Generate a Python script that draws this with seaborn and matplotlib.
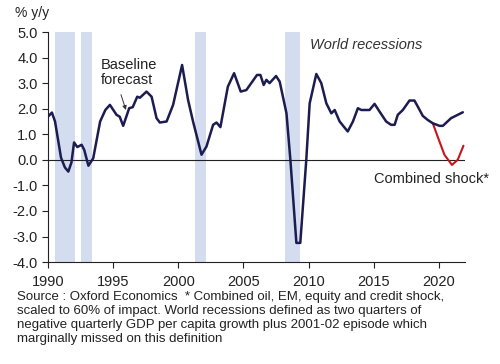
import matplotlib
matplotlib.use("Agg")
import matplotlib.pyplot as plt
import seaborn as sns
import pandas as pd

# World GDP growth, % y/y
base_years = [1990.0, 1990.3, 1990.54, 1991.0, 1991.3, 1991.56, 1991.8, 1992.0, 1992.25,
              1992.58, 1992.78, 1993.1, 1993.47, 1994.0, 1994.4, 1994.75, 1995.26, 1995.5,
              1995.77, 1996.23, 1996.5, 1996.85, 1997.05, 1997.56, 1997.95, 1998.33, 1998.58,
              1999.1, 1999.6, 2000.29, 2000.75, 2001.13, 2001.78, 2002.16, 2002.67, 2002.93,
              2003.23, 2003.8, 2004.28, 2004.79, 2005.22, 2006.04, 2006.3, 2006.55, 2006.76,
              2007.0, 2007.5, 2007.78, 2008.3, 2008.6, 2009.06, 2009.36, 2009.82, 2010.08,
              2010.59, 2010.97, 2011.36, 2011.74, 2012.0, 2012.38, 2013.0, 2013.4, 2013.78,
              2014.04, 2014.67, 2015.06, 2015.44, 2015.95, 2016.33, 2016.6, 2016.84, 2017.23,
              2017.74, 2018.12, 2018.38, 2018.76, 2019.14, 2019.53, 2020.04, 2020.3, 2020.93,
              2021.83]
base_growth = [1.69, 1.85, 1.5, 0.08, -0.3, -0.46, -0.1, 0.68, 0.5,
               0.59, 0.39, -0.23, 0.06, 1.5, 1.95, 2.15, 1.76, 1.69,
               1.33, 2.02, 2.06, 2.47, 2.43, 2.67, 2.47, 1.63, 1.46,
               1.5, 2.15, 3.71, 2.34, 1.5, 0.2, 0.52, 1.37, 1.46,
               1.28, 2.86, 3.39, 2.67, 2.73, 3.32, 3.32, 2.93, 3.13,
               3.0, 3.28, 3.06, 1.82, 0.0, -3.25, -3.25, 0.0, 2.21,
               3.36, 3.0, 2.21, 1.82, 1.95, 1.5, 1.11, 1.5, 2.02,
               1.95, 1.95, 2.19, 1.89, 1.5, 1.37, 1.37, 1.76, 1.95,
               2.32, 2.32, 2.08, 1.72, 1.56, 1.43, 1.33, 1.33, 1.63,
               1.86]

shock_years = [2019.53, 2019.9, 2020.42, 2021.0, 2021.44, 2021.88]
shock_growth = [1.43, 0.91, 0.2, -0.2, 0.0, 0.55]

# World recession periods (start, end)
recessions = [(1990.54, 1992.07), (1992.5, 1993.37), (2001.26, 2002.1), (2008.2, 2009.3)]

yticks = [5.0, 4.0, 3.0, 2.0, 1.0, 0.0, -1.0, -2.0, -3.0, -4.0]
xticks = [1990, 1995, 2000, 2005, 2010, 2015, 2020]

sns.set_style("ticks")
plt.rcParams["font.family"] = ["Liberation Sans", "DejaVu Sans"]

fig = plt.figure(figsize=(5, 3.64), dpi=100)
ax = fig.add_axes([0.096, 0.28, 0.834, 0.632])

for start, end in recessions:
    ax.axvspan(start, end, color="#d3ddef", lw=0, zorder=0)

ax.axhline(0, color="#222222", lw=0.8, zorder=1)

base = pd.DataFrame({"year": base_years, "growth": base_growth})
shock = pd.DataFrame({"year": shock_years, "growth": shock_growth})
sns.lineplot(data=shock, x="year", y="growth", sort=False, color="#c8141c", lw=1.5, ax=ax, zorder=2)
sns.lineplot(data=base, x="year", y="growth", sort=False, color="#1c1c50", lw=1.8, ax=ax, zorder=3)

ax.set_xlim(1990, 2022)
ax.set_ylim(-4, 5)
ax.set_xticks(xticks)
ax.set_yticks(yticks)
ax.set_yticklabels([f"{v:.1f}" for v in yticks])
ax.set_xlabel("")
ax.set_ylabel("")
ax.tick_params(labelsize=10.5, colors="#222222", length=4, width=0.8)
ax.tick_params(axis="x", pad=5)
for side in ["top", "right"]:
    ax.spines[side].set_visible(False)
for side in ["left", "bottom"]:
    ax.spines[side].set_color("#222222")
    ax.spines[side].set_linewidth(0.8)

fig.text(0.03, 0.965, "% y/y", fontsize=10, color="#222222", va="center")
ax.text(2010.1, 4.49, "World recessions", fontsize=10.5, style="italic", color="#333333", va="center")
ax.text(1994.05, 3.42, "Baseline\nforecast", fontsize=10.5, color="#222222",
        ha="left", va="center", linespacing=1.15)
ax.annotate("", xy=(1995.98, 1.95), xytext=(1995.6, 2.55),
            arrowprops=dict(arrowstyle="-|>", color="#333333", lw=0.7,
                            shrinkA=0, shrinkB=0, mutation_scale=6))
ax.text(2015.05, -0.74, "Combined shock*", fontsize=10.5, color="#222222", va="center", clip_on=False)

note = ("Source : Oxford Economics  * Combined oil, EM, equity and credit shock,\n"
        "scaled to 60% of impact. World recessions defined as two quarters of\n"
        "negative quarterly GDP per capita growth plus 2001-02 episode which\n"
        "marginally missed on this definition")
fig.text(0.034, 0.2, note, fontsize=9.5, color="#222222", va="top", linespacing=1.22)

fig.savefig("out.png", dpi=100)
